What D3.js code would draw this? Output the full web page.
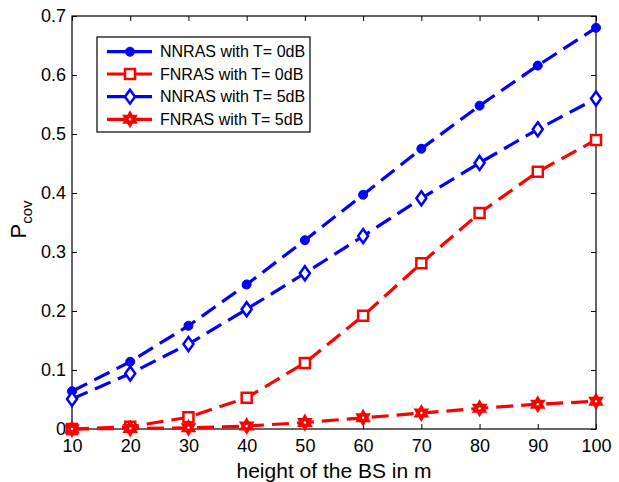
<!DOCTYPE html>
<html><head><meta charset="utf-8">
<script src="https://cdn.jsdelivr.net/npm/d3@7"></script>
<style>body{margin:0;background:#fff}svg{display:block}</style>
</head><body>
<script>
const heights = [10,20,30,40,50,60,70,80,90,100];
const nnras0 = [0.064,0.114,0.175,0.245,0.320,0.397,0.475,0.548,0.616,0.680];
const fnras0 = [0.000,0.004,0.020,0.053,0.112,0.192,0.281,0.366,0.436,0.490];
const nnras5 = [0.051,0.094,0.144,0.203,0.264,0.327,0.391,0.451,0.508,0.560];
const fnras5 = [0.000,0.001,0.002,0.005,0.011,0.019,0.027,0.035,0.042,0.047];
const seriesNames = ["NNRAS with T= 0dB","FNRAS with T= 0dB","NNRAS with T= 5dB","FNRAS with T= 5dB"];
const seriesColors = ["#0000ff","#ff0000","#0000ff","#ff0000"];
const seriesMarkers = ["circle","square","diamond","hexagram"];
const xTicks = [10,20,30,40,50,60,70,80,90,100];
const yTicks = [0,0.1,0.2,0.3,0.4,0.5,0.6,0.7];
const xLabel = "height of the BS in m";

const W=619,H=482;
const L=72,R=596,T=16,B=429;
const svg=d3.select("body").append("svg").attr("width",W).attr("height",H);
const x=d3.scaleLinear().domain([10,100]).range([L,R]);
const y=d3.scaleLinear().domain([0,0.7]).range([B,T]);
const font="'Liberation Sans', Arial, Helvetica, sans-serif";

// frame
svg.append("rect").attr("x",L).attr("y",T).attr("width",R-L).attr("height",B-T)
  .attr("fill","none").attr("stroke","#000").attr("stroke-width",1.2);

// axes with inward ticks
const xa=svg.append("g").attr("transform",`translate(0,${B})`)
  .call(d3.axisBottom(x).tickValues(xTicks).tickSizeInner(-5).tickSizeOuter(0).tickPadding(10).tickFormat(d3.format("d")));
const xt=svg.append("g").attr("transform",`translate(0,${T})`)
  .call(d3.axisTop(x).tickValues(xTicks).tickSizeInner(-5).tickSizeOuter(0).tickFormat(""));
const ya=svg.append("g").attr("transform",`translate(${L},0)`)
  .call(d3.axisLeft(y).tickValues(yTicks).tickSizeInner(-5).tickSizeOuter(0).tickPadding(6).tickFormat(d=>d===0?"0":d3.format(".1f")(d)));
const yr=svg.append("g").attr("transform",`translate(${R},0)`)
  .call(d3.axisRight(y).tickValues(yTicks).tickSizeInner(-5).tickSizeOuter(0).tickFormat(""));
[xa,xt,ya,yr].forEach(g=>{
  g.select(".domain").remove();
  g.selectAll("line").attr("stroke","#000").attr("stroke-width",1);
  g.selectAll("text").attr("font-family",font).attr("font-size",18).attr("fill","#000");
});

// markers
function markerPath(type){
  if(type==="square"){const s=5;return `M${-s},${-s}H${s}V${s}H${-s}Z`;}
  if(type==="diamond"){return `M0,-7L5,0L0,7L-5,0Z`;}
  if(type==="hexagram"){
    const Ro=7,Ri=Ro/Math.sqrt(3);let p="";
    for(let i=0;i<12;i++){const r=i%2?Ri:Ro;const a=-Math.PI/2+i*Math.PI/6;
      p+=(i?"L":"M")+(r*Math.cos(a)).toFixed(2)+","+(r*Math.sin(a)).toFixed(2);}
    return p+"Z";
  }
  return null;
}
function drawMarker(g,type,color,cx,cy){
  if(type==="circle"){
    g.append("circle").attr("cx",cx).attr("cy",cy).attr("r",4.5).attr("fill",color).attr("stroke",color).attr("stroke-width",1);
  } else if(type==="hexagram"){
    g.append("path").attr("d",markerPath(type)).attr("transform",`translate(${cx},${cy})`)
      .attr("fill",color).attr("stroke",color).attr("stroke-width",2).attr("stroke-linejoin","miter");
    g.append("circle").attr("cx",cx).attr("cy",cy).attr("r",1.2).attr("fill","#fff");
  } else {
    g.append("path").attr("d",markerPath(type)).attr("transform",`translate(${cx},${cy})`)
      .attr("fill","#fff").attr("stroke",color).attr("stroke-width",2.5);
  }
}

const allSeries=[nnras0,fnras0,nnras5,fnras5];
const line=d3.line().x((d,i)=>x(heights[i])).y(d=>y(d));
const plot=svg.append("g");
allSeries.forEach((vals,si)=>{
  plot.append("path").datum(vals).attr("d",line).attr("fill","none")
    .attr("stroke",seriesColors[si]).attr("stroke-width",3.2).attr("stroke-dasharray","17,8");
  vals.forEach((v,i)=>drawMarker(plot,seriesMarkers[si],seriesColors[si],x(heights[i]),y(v)));
});

// legend
const lg=svg.append("g");
lg.append("rect").attr("x",97).attr("y",37).attr("width",213).attr("height",95)
  .attr("fill","#fff").attr("stroke","#000").attr("stroke-width",1.2);
const rowY=[51.7,74,96.7,119.3];
seriesNames.forEach((name,i)=>{
  lg.append("line").attr("x1",107).attr("x2",152).attr("y1",rowY[i]).attr("y2",rowY[i])
    .attr("stroke",seriesColors[i]).attr("stroke-width",3.2);
  drawMarker(lg,seriesMarkers[i],seriesColors[i],130,rowY[i]);
  lg.append("text").attr("x",160).attr("y",rowY[i]+5.5).text(name)
    .attr("font-family",font).attr("font-size",16).attr("fill","#000");
});

// axis labels
svg.append("text").attr("x",(L+R)/2).attr("y",478).attr("text-anchor","middle")
  .attr("font-family",font).attr("font-size",21).attr("fill","#000").text(xLabel);
const yl=svg.append("text").attr("transform",`translate(26,${(T+B)/2-3}) rotate(-90)`)
  .attr("text-anchor","middle").attr("font-family",font).attr("fill","#000");
yl.append("tspan").attr("font-size",22).text("P");
yl.append("tspan").attr("font-size",15).attr("dy",6).text("cov");
</script>
</body></html>
